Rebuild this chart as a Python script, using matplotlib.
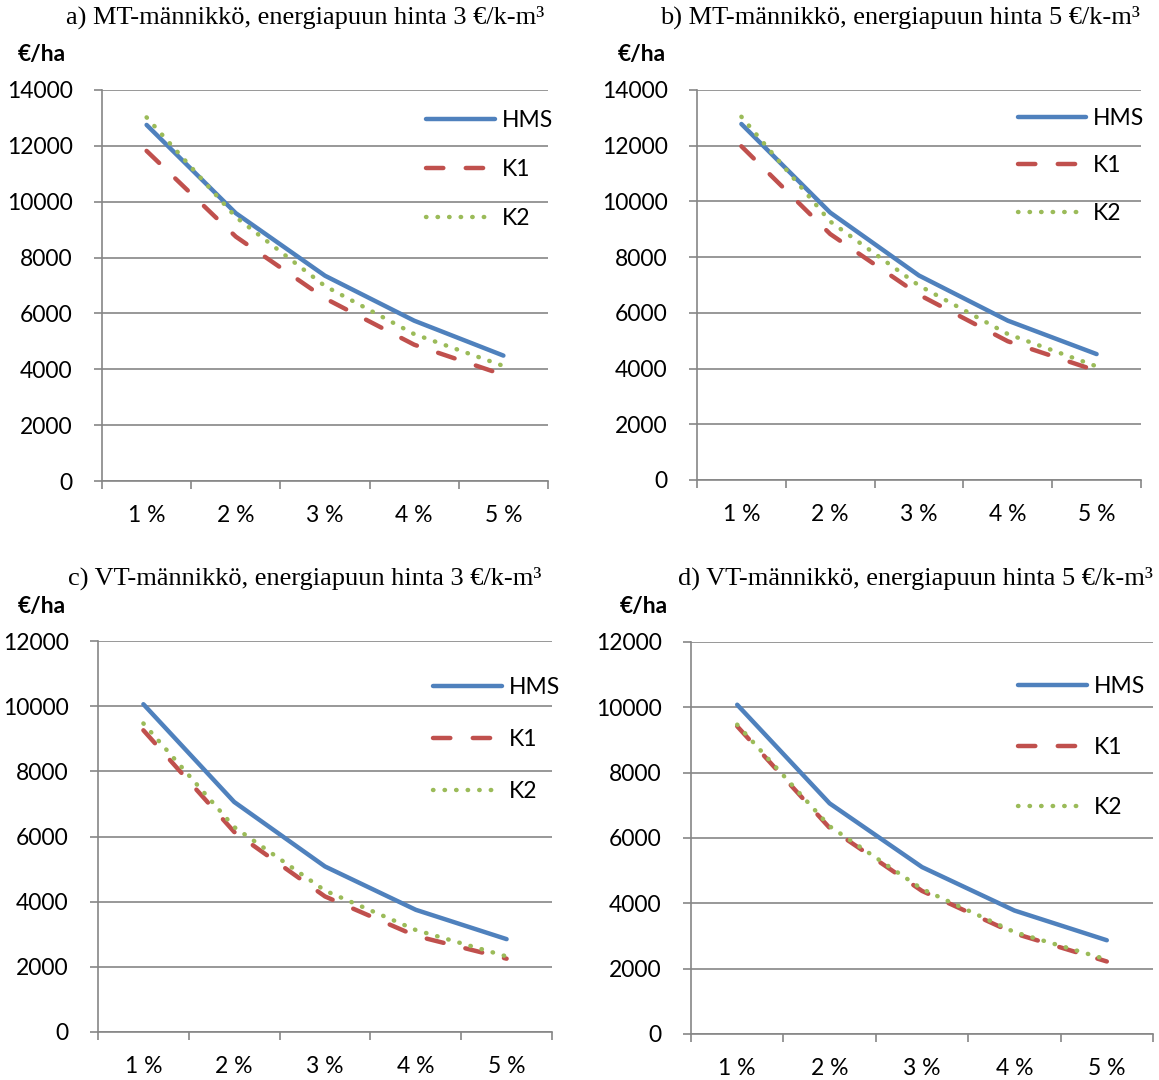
import matplotlib
matplotlib.use("Agg")
import matplotlib.pyplot as plt
from matplotlib.ticker import FixedLocator, NullFormatter

# ---- data ----
categories = ["1 %", "2 %", "3 %", "4 %", "5 %"]
series_names = ["HMS", "K1", "K2"]

a_HMS = [12750, 9590, 7350, 5740, 4490]
a_K1 = [11820, 8750, 6540, 4880, 3800]
a_K2 = [13020, 9450, 6980, 5260, 4120]

b_HMS = [12780, 9600, 7340, 5720, 4520]
b_K1 = [11980, 8830, 6650, 4980, 3920]
b_K2 = [13040, 9280, 6980, 5240, 4080]

c_HMS = [10060, 7060, 5080, 3750, 2850]
c_K1 = [9260, 6140, 4160, 2950, 2250]
c_K2 = [9470, 6290, 4340, 3130, 2320]

d_HMS = [10080, 7060, 5110, 3780, 2870]
d_K1 = [9420, 6310, 4380, 3080, 2220]
d_K2 = [9470, 6360, 4440, 3120, 2280]

titles = [
    "a) MT-männikkö, energiapuun hinta 3 €/k-m³",
    "b) MT-männikkö, energiapuun hinta 5 €/k-m³",
    "c) VT-männikkö, energiapuun hinta 3 €/k-m³",
    "d) VT-männikkö, energiapuun hinta 5 €/k-m³",
]
y_unit = "€/ha"
y_max = [14000, 14000, 12000, 12000]

# ---- style ----
W, H = 1159, 1080
colors = ["#4F81BD", "#C0504D", "#9BBB59"]
grid_c = "#868686"
sans = ["Lato", "DejaVu Sans"]
serif = ["Liberation Serif", "DejaVu Serif"]
fs = 16.5
lw = 3.2

fig = plt.figure(figsize=(W / 100, H / 100), dpi=100)

# axes rectangles in pixel coords: (left, right, top(ymax), bottom(0))
rects = [(102, 548, 90, 481), (697, 1141, 90, 480),
         (98, 552, 641, 1032), (691, 1153, 642, 1034)]
title_pos = [(305, 17), (900, 17), (305, 578), (915, 578)]
unit_pos = [(18, 55), (618, 55), (18, 606), (620, 606)]
legend_anchor = [(0.727, 0.950, 1.24), (0.722, 0.955, 1.17),
                 (0.738, 0.909, 1.36), (0.708, 0.914, 1.74)]

data = [(a_HMS, a_K1, a_K2), (b_HMS, b_K1, b_K2), (c_HMS, c_K1, c_K2), (d_HMS, d_K1, d_K2)]

x = list(range(1, len(categories) + 1))
for i, (l, r, t, b) in enumerate(rects):
    ax = fig.add_axes([l / W, 1 - b / H, (r - l) / W, (b - t) / H])
    hms, k1, k2 = data[i]
    ax.plot(x, hms, color=colors[0], lw=lw, solid_capstyle="round", label=series_names[0], zorder=3)
    ax.plot(x, k1, color=colors[1], lw=lw, dashes=(3.9, 5.05), dash_capstyle="round",
            label=series_names[1], zorder=3)
    ax.plot(x, k2, color=colors[2], lw=lw, dashes=(0.1, 2.5), dash_capstyle="round",
            label=series_names[2], zorder=3)
    ax.set_xlim(0.5, len(categories) + 0.5)
    ax.set_ylim(0, y_max[i])
    ax.set_yticks(range(0, y_max[i] + 1, 2000))
    ax.yaxis.grid(True, color=grid_c, lw=1.2)
    ax.set_axisbelow(True)
    for s in ["top", "right"]:
        ax.spines[s].set_visible(False)
    for s in ["left", "bottom"]:
        ax.spines[s].set_color(grid_c)
        ax.spines[s].set_linewidth(1.2)
    ax.xaxis.set_major_locator(FixedLocator([k + 0.5 for k in range(0, len(categories) + 1)]))
    ax.xaxis.set_major_formatter(NullFormatter())
    ax.xaxis.set_minor_locator(FixedLocator(x))
    ax.set_xticklabels(categories, minor=True)
    ax.tick_params(axis="x", which="major", length=6, width=1.2, color=grid_c, direction="out")
    ax.tick_params(axis="x", which="minor", length=0, pad=17, labelsize=fs)
    ax.tick_params(axis="y", length=6, width=1.2, color=grid_c, direction="out", pad=15, labelsize=fs)
    for lab in ax.get_xticklabels(minor=True) + ax.get_yticklabels():
        lab.set_fontfamily(sans)
    ax_, ay_, ls = legend_anchor[i]
    ax.legend(loc="upper left", bbox_to_anchor=(ax_, ay_), frameon=False,
              prop={"family": sans, "size": fs}, handlelength=3.0,
              handletextpad=0.3, labelspacing=ls, borderpad=0, borderaxespad=0)
    tx, ty = title_pos[i]
    fig.text(tx / W, 1 - ty / H, titles[i], ha="center", va="center",
             fontsize=19, family=serif)
    ux, uy = unit_pos[i]
    fig.text(ux / W, 1 - uy / H, y_unit, ha="left", va="center",
             fontsize=fs, family=sans, fontweight="bold")

fig.savefig("out.png", dpi=100)
